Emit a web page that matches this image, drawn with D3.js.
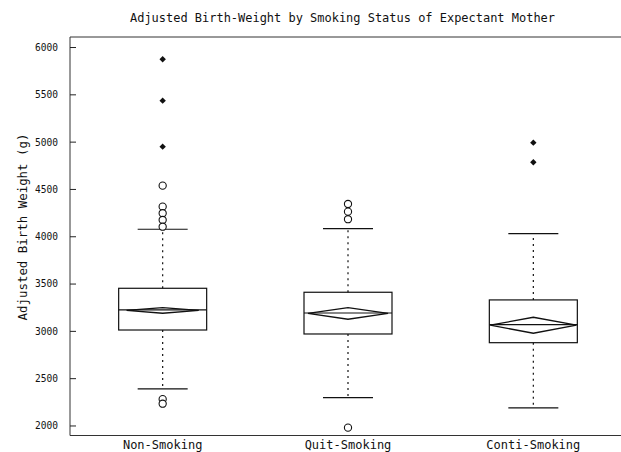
<!DOCTYPE html>
<html>
<head>
    <script src="https://d3js.org/d3.v7.min.js"></script>
    <style>
        body {
            margin: 0;
            background: #fff;
        }
        text {
            font-family: 'DejaVu Sans Mono', monospace;
            fill: #111;
        }
    </style>
</head>
<body>
<div id="chart"></div>
<script>
// Data
const categories = ["Non-Smoking", "Quit-Smoking", "Conti-Smoking"];
const q1 = [3009, 2967, 2875];
const median = [3221, 3189, 3066];
const q3 = [3450, 3408, 3327];
const whiskerLow = [2386, 2294, 2185];
const whiskerHigh = [4074, 4080, 4027];
const mean = [3216, 3184, 3060];
const meanLow = [3186, 3123, 2975];
const meanHigh = [3245, 3245, 3144];
const mildOutliers = [
    [4535, 4313, 4243, 4172, 4101, 2278, 2230],
    [4341, 4260, 4180, 1977],
    []
];
const extremeOutliers = [
    [5871, 5433, 4947],
    [],
    [4989, 4782]
];
const yTicks = [2000, 2500, 3000, 3500, 4000, 4500, 5000, 5500, 6000];

const renderBoxPlot = () => {
    const width = 621;
    const height = 452;
    const left = 70, right = 621, top = 37, bottom = 435.5;

    const svg = d3.select("#chart")
        .append("svg")
        .attr("width", width)
        .attr("height", height);

    const x = d3.scaleBand()
        .domain(categories)
        .range([left, 626]);

    const y = d3.scaleLinear()
        .domain([1894, 6106])
        .range([bottom, top]);

    const boxW = 88;
    const capW = 50;
    const diamondFrac = [0.82, 0.91, 0.98];

    // Frame: axis line, top and bottom lines
    svg.append("g")
        .attr("stroke", "#333")
        .attr("stroke-width", 1)
        .selectAll("line")
        .data([
            [left, top, right, top],
            [left, bottom, right, bottom],
            [left, top, left, bottom]
        ])
        .join("line")
        .attr("x1", d => d[0]).attr("y1", d => d[1])
        .attr("x2", d => d[2]).attr("y2", d => d[3]);

    // Y axis (ticks point inward)
    const yAxis = d3.axisLeft(y)
        .tickValues(yTicks)
        .tickSize(-6)
        .tickPadding(12)
        .tickFormat(d3.format("d"));

    const gy = svg.append("g")
        .attr("transform", `translate(${left},0)`)
        .call(yAxis);
    gy.select(".domain").remove();
    gy.selectAll(".tick line").attr("stroke", "#222");
    gy.selectAll(".tick text")
        .attr("fill", "#111")
        .style("font-family", "'DejaVu Sans Mono', monospace")
        .style("font-size", "10.5px")
        .attr("textLength", 23)
        .attr("lengthAdjust", "spacingAndGlyphs");

    // X labels
    svg.append("g")
        .selectAll("text")
        .data(categories)
        .join("text")
        .attr("x", d => x(d) + x.bandwidth() / 2)
        .attr("y", 449)
        .attr("text-anchor", "middle")
        .style("font-size", "12px")
        .text(d => d);

    // Title
    svg.append("text")
        .attr("x", 342.5)
        .attr("y", 22)
        .attr("text-anchor", "middle")
        .attr("textLength", 425)
        .attr("lengthAdjust", "spacingAndGlyphs")
        .style("font-size", "12px")
        .text("Adjusted Birth-Weight by Smoking Status of Expectant Mother");

    // Y label
    svg.append("text")
        .attr("transform", "translate(27,227) rotate(-90)")
        .attr("text-anchor", "middle")
        .attr("textLength", 187)
        .attr("lengthAdjust", "spacingAndGlyphs")
        .style("font-size", "12px")
        .text("Adjusted Birth Weight (g)");

    const groups = svg.append("g")
        .selectAll("g")
        .data(categories.map((c, i) => ({ c, i })))
        .join("g")
        .attr("transform", d => `translate(${x(d.c) + x.bandwidth() / 2},0)`);

    // Dotted whiskers
    groups.append("line")
        .attr("x1", 0).attr("x2", 0)
        .attr("y1", d => y(q3[d.i]))
        .attr("y2", d => y(whiskerHigh[d.i]))
        .attr("stroke", "#111")
        .attr("stroke-width", 1.2)
        .attr("stroke-dasharray", "2,4");
    groups.append("line")
        .attr("x1", 0).attr("x2", 0)
        .attr("y1", d => y(q1[d.i]))
        .attr("y2", d => y(whiskerLow[d.i]))
        .attr("stroke", "#111")
        .attr("stroke-width", 1.2)
        .attr("stroke-dasharray", "2,4");

    // Whisker caps
    groups.selectAll("line.cap")
        .data(d => [whiskerHigh[d.i], whiskerLow[d.i]])
        .join("line")
        .attr("class", "cap")
        .attr("x1", -capW / 2).attr("x2", capW / 2)
        .attr("y1", v => y(v)).attr("y2", v => y(v))
        .attr("stroke", "#111")
        .attr("stroke-width", 1.2);

    // Boxes
    groups.append("rect")
        .attr("x", -boxW / 2)
        .attr("width", boxW)
        .attr("y", d => y(q3[d.i]))
        .attr("height", d => y(q1[d.i]) - y(q3[d.i]))
        .attr("fill", "none")
        .attr("stroke", "#111")
        .attr("stroke-width", 1.2);

    // Median line
    groups.append("line")
        .attr("x1", -boxW / 2).attr("x2", boxW / 2)
        .attr("y1", d => y(median[d.i])).attr("y2", d => y(median[d.i]))
        .attr("stroke", "#111")
        .attr("stroke-width", 1.2);

    // Mean diamonds
    groups.append("path")
        .attr("d", d => {
            const hw = boxW * diamondFrac[d.i] / 2;
            return `M${-hw},${y(mean[d.i])}L0,${y(meanHigh[d.i])}L${hw},${y(mean[d.i])}L0,${y(meanLow[d.i])}Z`;
        })
        .attr("fill", "none")
        .attr("stroke", "#111")
        .attr("stroke-width", 1.3);

    // Mild outliers (open circles)
    groups.selectAll("circle")
        .data(d => mildOutliers[d.i])
        .join("circle")
        .attr("cx", 0)
        .attr("cy", v => y(v))
        .attr("r", 3.6)
        .attr("fill", "#fff")
        .attr("stroke", "#111")
        .attr("stroke-width", 1.1);

    // Extreme outliers (filled diamonds)
    const diamond = d3.symbol().type(d3.symbolDiamond2).size(26);
    groups.selectAll("path.ext")
        .data(d => extremeOutliers[d.i])
        .join("path")
        .attr("class", "ext")
        .attr("d", diamond)
        .attr("transform", v => `translate(0,${y(v)})`)
        .attr("fill", "#111");
};

renderBoxPlot();
</script>
</body>
</html>
